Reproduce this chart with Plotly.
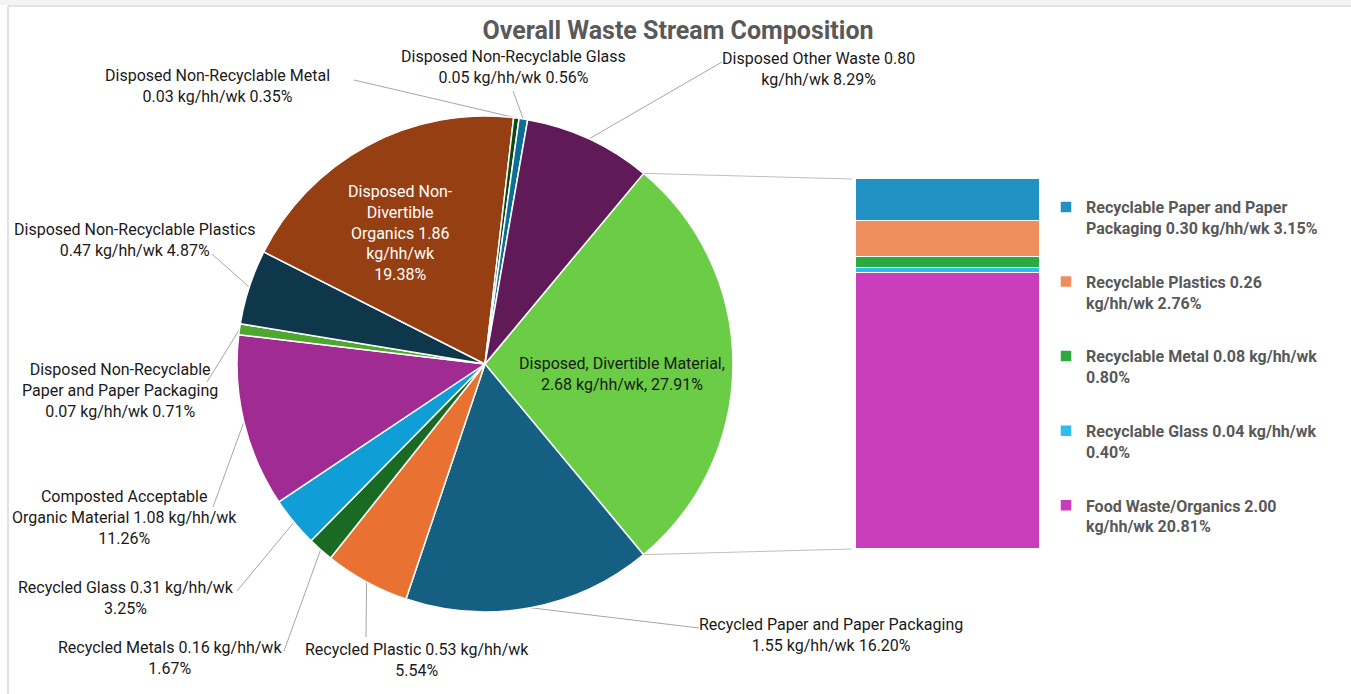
import re
import math
import plotly.graph_objects as go

# ---------------- data ----------------
pie_names = [
    "Disposed, Divertible Material",
    "Recycled Paper and Paper Packaging",
    "Recycled Plastic",
    "Recycled Metals",
    "Recycled Glass",
    "Composted Acceptable Organic Material",
    "Disposed Non-Recyclable Paper and Paper Packaging",
    "Disposed Non-Recyclable Plastics",
    "Disposed Non-Divertible Organics",
    "Disposed Non-Recyclable Metal",
    "Disposed Non-Recyclable Glass",
    "Disposed Other Waste",
]
pie_kg = [2.68, 1.55, 0.53, 0.16, 0.31, 1.08, 0.07, 0.47, 1.86, 0.03, 0.05, 0.80]
pie_pct = [27.91, 16.20, 5.54, 1.67, 3.25, 11.26, 0.71, 4.87, 19.38, 0.35, 0.56, 8.29]

bar_names = [
    "Recyclable Paper and Paper Packaging",
    "Recyclable Plastics",
    "Recyclable Metal",
    "Recyclable Glass",
    "Food Waste/Organics",
]
bar_kg = [0.30, 0.26, 0.08, 0.04, 2.00]
bar_pct = [3.15, 2.76, 0.80, 0.40, 20.81]

title_text = "Overall Waste Stream Composition"
unit = "kg/hh/wk"

# ---------------- styles ----------------
W, H = 1351, 694
pie_colors = ["#6BCC46", "#155F82", "#E97132", "#196B24", "#0F9ED5", "#A02B93",
              "#4EA72E", "#0E374C", "#963F12", "#0F4716", "#0B6E97", "#5F1A57"]
bar_colors = ["#2190C3", "#EE8E5E", "#2BAA3E", "#2DBDEE", "#C93DBA"]

PIE_CX, PIE_CY, PIE_R = 485, 364, 248
BAR_X0, BAR_X1, BAR_Y0, BAR_Y1 = 856, 1040, 179, 549

pie_sep = [", "] + [" "] * 11
pie_label_lines = [[3, 3], [5, 3], [4, 1], [4, 1], [4, 1], [2, 4, 1], [3, 4, 3], [4, 3],
                   [2, 1, 2, 1, 1], [4, 3], [4, 3], [4, 2]]
pie_label_pos = [(622, 374), (831, 635), (417, 660), (170, 658), (126, 598), (124, 517),
                 (120, 390), (134, 240), (400, 233), (218, 86), (513, 67), (818, 69)]
pie_label_color = ["#1A1A1A"] * 8 + ["#FFFFFF"] + ["#1A1A1A"] * 3
leader_anchor = [None, (699, 628), (366, 637), (284, 651), (237, 591), (213, 507),
                 (207, 382), (212, 254), None, (354, 80), (513, 91), (722, 62)]
legend_lines = [[4, 4], [3, 2], [4, 1], [4, 1], [3, 2]]

FONT = "Roboto"


def px(x):
    return x / W


def py(y):
    return 1 - y / H


def tokens(s):
    return re.findall(r"[^\s-]+-?", s)


def wrap(s, counts):
    t = tokens(s)
    out, i = [], 0
    for c in counts:
        part = t[i:i + c]
        i += c
        line = ""
        for j, w in enumerate(part):
            if j > 0 and not part[j - 1].endswith("-"):
                line += " "
            line += w
        out.append(line)
    return "<br>".join(out)


fig = go.Figure()

# pie
rotation = 90 - pie_pct[0] * 3.6 / 2
fig.add_trace(go.Pie(
    labels=pie_names, values=pie_pct, sort=False, direction="clockwise",
    rotation=rotation, textinfo="none", showlegend=False,
    marker=dict(colors=pie_colors, line=dict(color="white", width=1.5)),
    domain=dict(x=[px(PIE_CX - PIE_R), px(PIE_CX + PIE_R)],
                y=[py(PIE_CY + PIE_R), py(PIE_CY - PIE_R)]),
    hoverinfo="label+percent",
))

# stacked bar (bottom first)
for i in reversed(range(len(bar_names))):
    lab = wrap(f"{bar_names[i]} {bar_kg[i]:.2f} {unit} {bar_pct[i]:.2f}%", legend_lines[i])
    fig.add_trace(go.Bar(
        x=[0], y=[bar_pct[i]], name=lab, legendgroup=f"g{i}", legendrank=i + 1,
        marker=dict(color=bar_colors[i], line=dict(color="white", width=1.5)),
        width=1, xaxis="x", yaxis="y",
    ))

bar_total = sum(bar_pct)

annotations = []
shapes = [
    dict(type="rect", xref="paper", yref="paper", x0=0, x1=1, y0=py(5), y1=1,
         fillcolor="#F4F4F4", line=dict(width=0), layer="below"),
    dict(type="line", xref="paper", yref="paper", x0=px(8), x1=1, y0=py(6), y1=py(6),
         line=dict(color="#D9D9D9", width=1.5)),
    dict(type="line", xref="paper", yref="paper", x0=px(8), x1=px(8), y0=py(6), y1=0,
         line=dict(color="#D9D9D9", width=1.5)),
]
cum = rotation
for i, name in enumerate(pie_names):
    span = pie_pct[i] * 3.6
    mid = math.radians(cum + span / 2)
    cum += span
    txt = wrap(f"{name}{pie_sep[i]}{pie_kg[i]:.2f} {unit}{pie_sep[i]}{pie_pct[i]:.2f}%",
               pie_label_lines[i])
    lx, ly = pie_label_pos[i]
    annotations.append(dict(
        x=px(lx), y=py(ly), xref="paper", yref="paper", text=txt, showarrow=False,
        xanchor="center", yanchor="middle", align="center",
        font=dict(family=FONT, size=16, color=pie_label_color[i]),
    ))
    if leader_anchor[i] is not None:
        ex = PIE_CX + PIE_R * math.sin(mid)
        ey = PIE_CY - PIE_R * math.cos(mid)
        ax, ay = leader_anchor[i]
        shapes.append(dict(type="line", xref="paper", yref="paper",
                           x0=px(ax), y0=py(ay), x1=px(ex), y1=py(ey),
                           line=dict(color="#A6A6A6", width=1), layer="below"))

# connector lines pie -> bar
a0 = math.radians(rotation)
a1 = math.radians(rotation + pie_pct[0] * 3.6)
for a, by in ((a0, BAR_Y0), (a1, BAR_Y1)):
    sx = PIE_CX + PIE_R * math.sin(a)
    sy = PIE_CY - PIE_R * math.cos(a)
    shapes.append(dict(type="line", xref="paper", yref="paper",
                       x0=px(sx), y0=py(sy), x1=px(BAR_X0 - 4), y1=py(by),
                       line=dict(color="#BFBFBF", width=1)))

fig.update_layout(
    width=W, height=H, autosize=False,
    margin=dict(l=0, r=0, t=0, b=0),
    paper_bgcolor="white", plot_bgcolor="white",
    barmode="stack", bargap=0,
    title=dict(text=f"<b>{title_text}</b>", x=px(678), xanchor="center",
               y=py(30), yanchor="middle",
               font=dict(family=FONT, size=25, color="#595959")),
    xaxis=dict(domain=[px(BAR_X0), px(BAR_X1)], range=[-0.5, 0.5], visible=False,
               fixedrange=True),
    yaxis=dict(domain=[py(BAR_Y1), py(BAR_Y0)], range=[0, bar_total], visible=False,
               fixedrange=True),
    legend=dict(x=px(1046), y=py(190), xanchor="left", yanchor="top",
                traceorder="grouped", tracegroupgap=30, valign="top",
                font=dict(family=FONT, size=16, color="#595959", weight="bold"),
                bgcolor="rgba(0,0,0,0)", itemclick=False, itemdoubleclick=False),
    annotations=annotations,
    shapes=shapes,
)

fig.write_html("out.html")
